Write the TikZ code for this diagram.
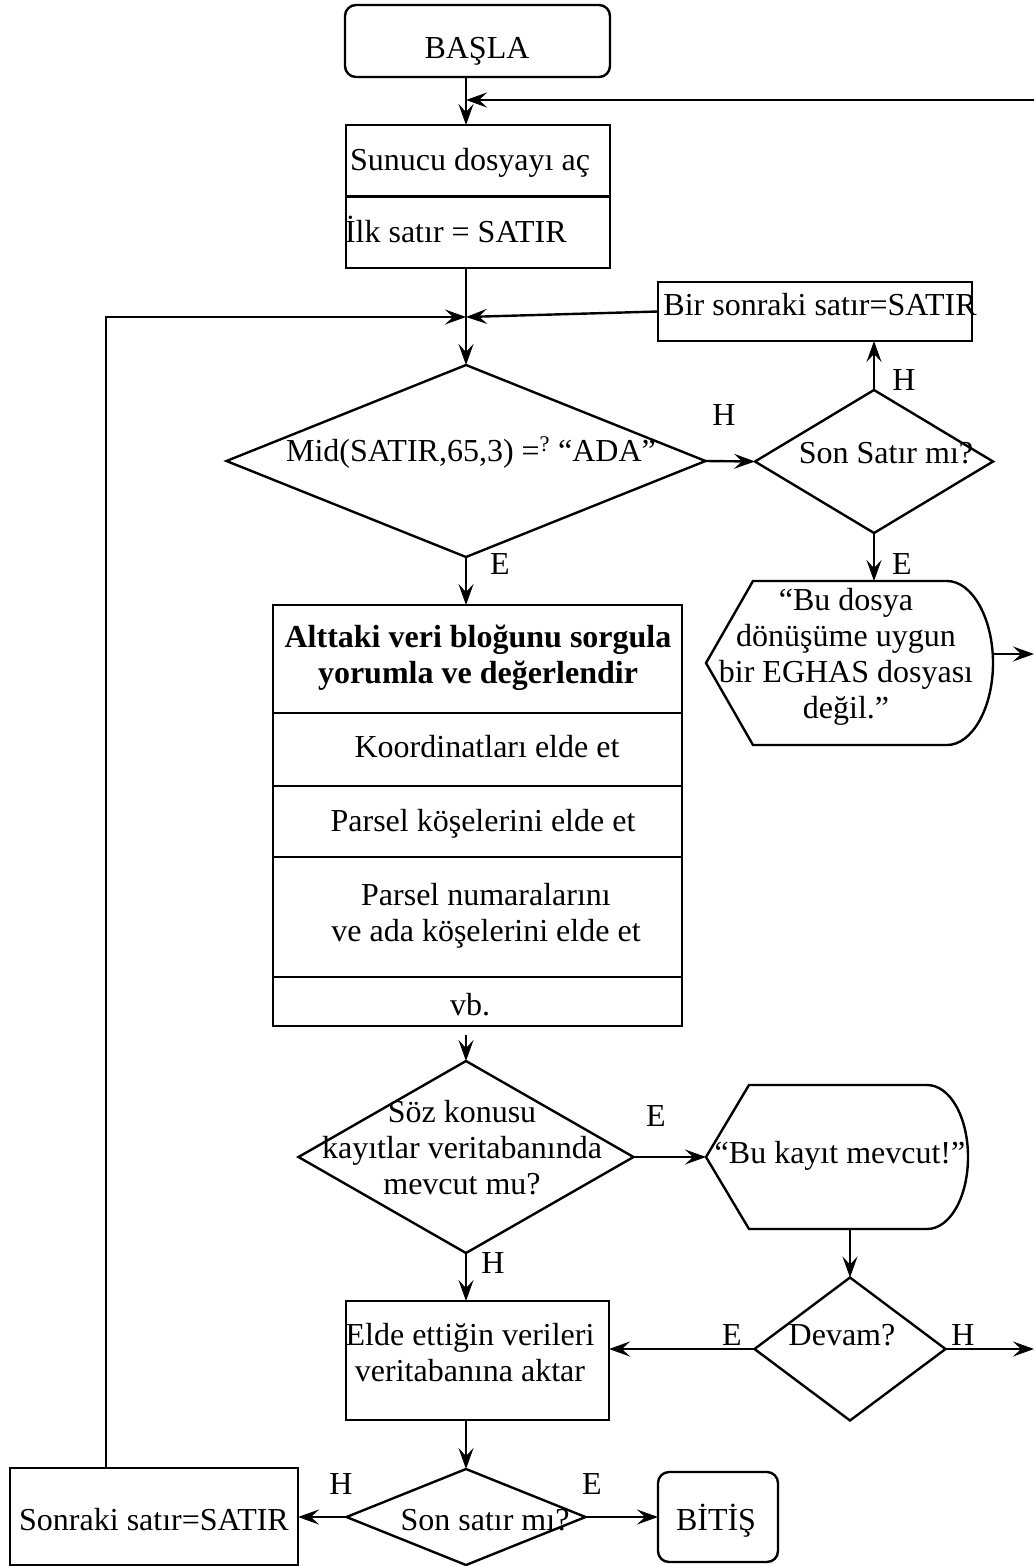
\documentclass[tikz,border=0pt]{standalone}
\usepackage{fontspec}
\setmainfont{Liberation Serif}
\usetikzlibrary{shapes.geometric,arrows.meta}

\begin{document}
\begin{tikzpicture}[x=1pt,y=-1pt,
  font=\fontsize{32}{36}\selectfont,
  line width=2.4pt,
  every node/.style={inner sep=0pt,outer sep=0pt},
  procbox/.style={draw,rectangle},
  termbox/.style={draw,rectangle,rounded corners=11pt},
  decision/.style={draw,diamond},
  txt/.style={anchor=base},
  mtxt/.style={align=center},
  flow/.style={-{Stealth[length=21pt,width=15pt,inset=8pt]}},
]
\fill[white] (0,0) rectangle (1034,1566);
\useasboundingbox (0,0) rectangle (1034,1566);

% guide coordinates
\coordinate (spine) at (466,0);
\coordinate (loopx) at (106,0);
\coordinate (join) at (466,317);
\coordinate (rin) at (1034,100);
\coordinate (rout1) at (1034,654);
\coordinate (rout2) at (1034,1349);

% start and opening steps
\node[termbox,minimum width=265pt,minimum height=72pt] (start) at (477.5,41) {};
\node[txt] (startt) at (477,58) {BAŞLA};

\node[procbox,minimum width=264pt,minimum height=143pt] (box1) at (478,196.5) {};
\draw (box1.west) -- (box1.east);
\node[txt] (box1a) at (470,170) {Sunucu dosyayı aç};
\node[anchor=base west] (box1b) at (345,242) {İlk satır = SATIR};

% next line box (upper right)
\node[procbox,minimum width=314pt,minimum height=59pt] (next) at (815,311.5) {};
\node[txt] (nextt) at (820,315) {Bir sonraki satır=SATIR};

% first decision
\node[decision,minimum width=479pt,minimum height=192pt] (d1) at (466,461) {};
\node[txt] (d1t) at (471,461) {Mid(SATIR,65,3) =\textsuperscript{?} “ADA”};

\node[decision,minimum width=238pt,minimum height=143pt] (d2) at (874,461.5) {};
\node[txt] (d2t) at (886,463) {Son Satır mı?};

% message: not a convertible file
\coordinate (m1l) at (706,663);
\coordinate (m1tl) at (753,581);
\coordinate (m1tr) at (947,581);
\coordinate (m1r) at (993,663);
\coordinate (m1br) at (947,745);
\coordinate (m1bl) at (753,745);
\coordinate (m1top) at (874,581);
\coordinate (m1out) at (992.5,654);
\draw (m1l) -- (m1tl) -- (m1tr) .. controls (972,581) and (993,618) .. (m1r)
      .. controls (993,708) and (972,745) .. (m1br) -- (m1bl) -- cycle;
\node[mtxt] (m1t) at (846,656.5) {“Bu dosya\\dönüşüme uygun\\bir EGHAS dosyası\\değil.”};

% data block
\node[procbox,minimum width=409pt,minimum height=421pt] (block) at (477.5,815.5) {};
\foreach \yy in {713,786,857,977}
  \draw (block.west |- 0,\yy) -- (block.east |- 0,\yy);
\node[mtxt,font=\fontsize{32}{36}\selectfont\bfseries] (blk1) at (478,657.5)
  {Alttaki veri bloğunu sorgula\\yorumla ve değerlendir};
\node[txt] (blk2) at (487,757) {Koordinatları elde et};
\node[txt] (blk3) at (483,831) {Parsel köşelerini elde et};
\node[mtxt] (blk4) at (486,915.75) {Parsel numaralarını\\ve ada köşelerini elde et};
\node[txt] (blk5) at (470,1015) {vb.};

% existing record check
\node[decision,minimum width=335pt,minimum height=192pt] (d3) at (466,1157) {};
\node[mtxt] (d3t) at (462,1148) {Söz konusu\\kayıtlar veritabanında\\mevcut mu?};

\coordinate (m2l) at (706,1157);
\coordinate (m2tl) at (749,1085);
\coordinate (m2tr) at (927,1085);
\coordinate (m2r) at (968,1157);
\coordinate (m2br) at (927,1229);
\coordinate (m2bl) at (749,1229);
\coordinate (m2bot) at (850,1229);
\draw (m2l) -- (m2tl) -- (m2tr) .. controls (950,1085) and (968,1117) .. (m2r)
      .. controls (968,1197) and (950,1229) .. (m2br) -- (m2bl) -- cycle;
\node[txt] (m2t) at (840,1163) {“Bu kayıt mevcut!”};

\node[decision,minimum width=191pt,minimum height=143pt] (d5) at (850,1349) {};
\node[txt] (d5t) at (842,1345) {Devam?};

\node[procbox,minimum width=263pt,minimum height=119pt] (box4) at (477.5,1360.5) {};
\node[mtxt] (box4t) at (470,1352.5) {Elde ettiğin verileri\\veritabanına aktar};

% last line check
\node[decision,minimum width=239pt,minimum height=96pt] (d4) at (466,1517) {};
\node[txt] (d4t) at (485,1530) {Son satır mı?};

\node[procbox,minimum width=288pt,minimum height=97pt] (box5) at (154,1516.5) {};
\node[txt] (box5t) at (154,1530) {Sonraki satır=SATIR};

\node[termbox,minimum width=120pt,minimum height=90pt] (end) at (718,1517) {};
\node[txt] (endt) at (716,1530) {BİTİŞ};

% connectors
\draw[flow] (start.south -| spine) -- (box1.north -| spine);
\draw[flow] (rin) -- (rin -| spine);
\draw (box1.south -| spine) -- (join);
\draw[flow] (join) -- (d1.north);
\draw[flow] (next.west) -- (join);
\draw[flow] (box5.north -| loopx) |- (join);
\draw[flow] (d1.east) -- (d2.west);
\draw[flow] (d2.north) -- (d2.north |- next.south);
\draw[flow] (d2.south) -- (m1top);
\draw[flow] (m1out) -- (rout1);
\draw[flow] (d1.south) -- (block.north -| spine);
\draw[flow,shorten <=9pt] (block.south -| spine) -- (d3.north);
\draw[flow] (d3.east) -- (m2l);
\draw[flow] (d3.south) -- (d3.south |- box4.north);
\draw[flow] (m2bot) -- (d5.north);
\draw[flow] (d5.west) -- (d5.west -| box4.east);
\draw[flow] (d5.east) -- (rout2);
\draw[flow] (box4.south -| spine) -- (d4.north);
\draw[flow] (d4.west) -- (d4.west -| box5.east);
\draw[flow] (d4.east) -- (d4.east -| end.west);

% branch labels
\node[txt] (l1) at (724,425) {H};
\node[txt] (l2) at (904,390) {H};
\node[txt] (l3) at (500,574) {E};
\node[txt] (l4) at (902,574) {E};
\node[txt] (l5) at (656,1126) {E};
\node[txt] (l6) at (493,1273) {H};
\node[txt] (l7) at (732,1345) {E};
\node[txt] (l8) at (963,1345) {H};
\node[txt] (l9) at (341,1494) {H};
\node[txt] (l10) at (592,1494) {E};
\end{tikzpicture}
\end{document}
